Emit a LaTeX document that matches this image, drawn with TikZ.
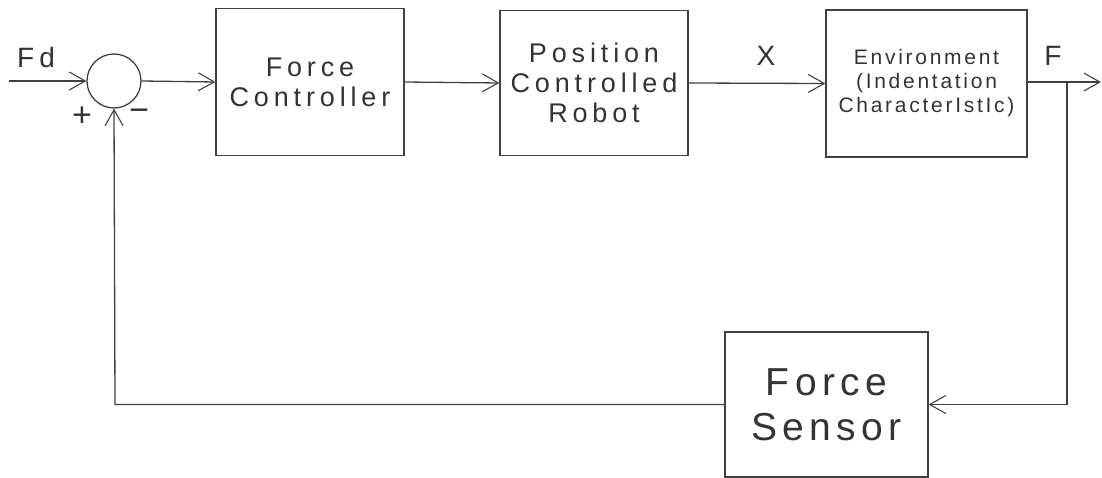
\documentclass[tikz,border=0pt]{standalone}
\usepackage{fontspec}
\setmainfont{Liberation Sans}[LetterSpace=18]
\usetikzlibrary{arrows.meta}
\begin{document}
\begin{tikzpicture}[x=1pt,y=-1pt,
  line width=1.3pt, draw=black!75,
  barb/.style={-{Straight Barb[length=16pt,width=18pt,line width=1.1pt]}},
  block/.style={draw, rectangle, inner sep=0pt, align=center, text=black!80,
    font=\fontsize{27}{30}\selectfont},
  sumjunction/.style={draw, circle, minimum size=54pt, inner sep=0pt},
  sig/.style={font=\fontsize{28}{30}\selectfont, inner sep=0pt, text=black!80},
  signmark/.style={font=\fontsize{34}{36}\selectfont, inner sep=0pt, text=black!80}]
\useasboundingbox (0,0) rectangle (1102,478);

% blocks
\node[block, minimum width=188pt, minimum height=147pt] (fc) at (310,82) {Force\\Controller};
\node[block, minimum width=188pt, minimum height=145pt] (pcr) at (594,83) {Position\\Controlled\\Robot};
\node[block, minimum width=201pt, minimum height=147pt,
      font=\fontsize{21}{24}\selectfont\addfontfeature{LetterSpace=13}] (env) at (926.5,83.5)
      {Environment\\(Indentation\\CharacterIstIc)};
\node[block, minimum width=203pt, minimum height=145pt,
      font=\fontsize{39}{45}\selectfont\addfontfeature{LetterSpace=14}] (fs) at (826.5,404.5) {Force\\Sensor};
\node[sumjunction] (sum) at (114,81) {};

% free ends and corners
\coordinate (in) at (9,81);
\coordinate (out) at (1101,82);
\coordinate (br) at (1067,82);
\coordinate (brd) at (1067,404.5);
\coordinate (fbc) at (115,404.5);

% signal labels
\node[sig] (fd) at (36,57) {Fd};
\node[sig] (xl) at (766,56) {X};
\node[sig] (fl) at (1053,56) {F};
\node[signmark] (plus) at (82,117) {+};
\node[signmark] (minus) at (139,115) {\textminus};

% forward path
\draw[barb] (in) -- (sum.west);
\draw[barb] (sum.east) -- (fc.west);
\draw[barb] (fc.east) -- (pcr.west);
\draw[barb] (pcr.east) -- (env.west);
\draw[barb] (env.east |- out) -- (out);

% feedback path
\draw[barb] (br) -- (brd) -- (fs.east);
\draw[barb] (fs.west) -- (fbc) -- (sum.south);
\end{tikzpicture}
\end{document}
